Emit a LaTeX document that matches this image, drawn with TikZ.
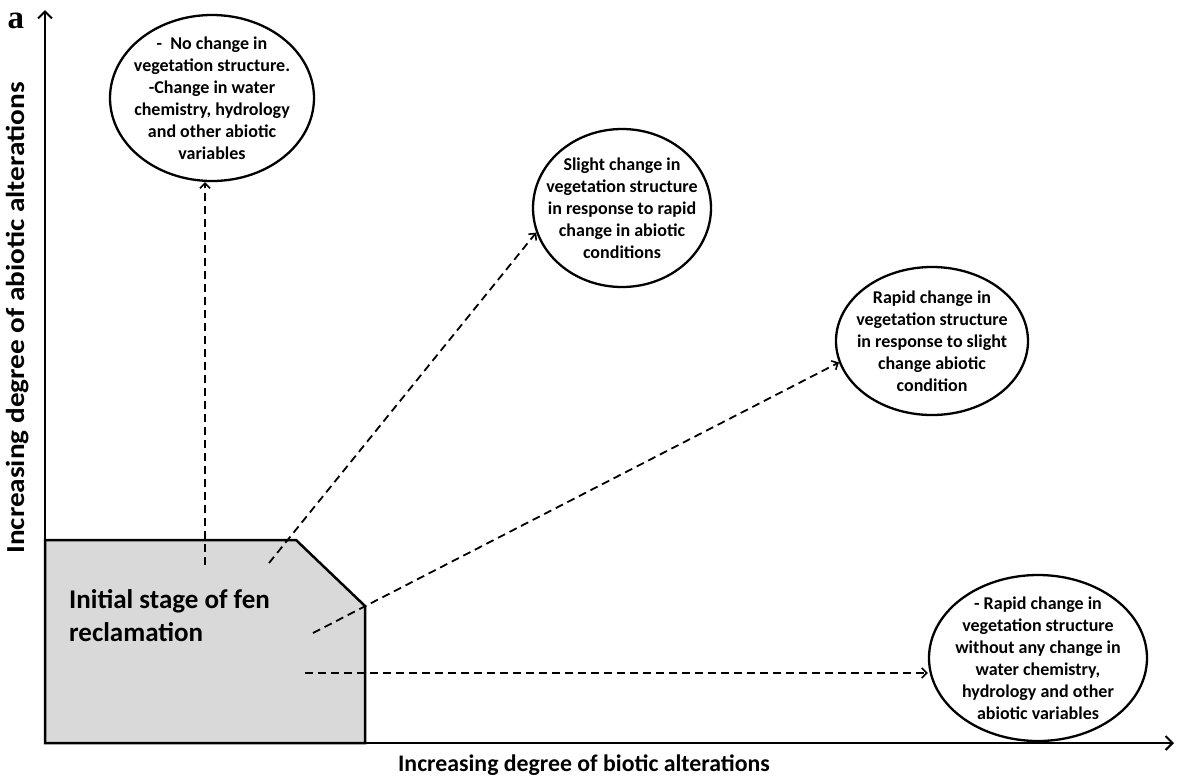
\documentclass[tikz,border=0pt]{standalone}
\usepackage{fontspec}
\usepackage{graphicx}
\setmainfont{Carlito}
\newfontfamily\panelfont{Liberation Serif}
\usetikzlibrary{arrows.meta,shapes.geometric}

\definecolor{stagegray}{HTML}{D9D9D9}

\begin{document}
\begin{tikzpicture}[x=1pt,y=-1pt,
  axis/.style={line width=2.3pt,-{Straight Barb[length=7pt,width=14pt,line width=2pt]}},
  trend/.style={line width=1.8pt,dash pattern=on 8pt off 5pt,
    -{Straight Barb[length=5pt,width=10pt,line width=1.6pt]}},
  outcome/.style={ellipse,draw,line width=2.3pt,fill=white,inner sep=-40pt,
    align=center,font=\bfseries\fontsize{18}{22}\selectfont},
  axislabel/.style={font=\bfseries\fontsize{23.8}{26}\selectfont},
]
\useasboundingbox (0,0) rectangle (1179,780);

% initial stage block
\draw[line width=2.5pt,fill=stagegray,line join=miter]
  (45,540) -- (296,540) -- (365,606) -- (365,743) -- (45,743) -- cycle;
\node[anchor=north west,inner sep=0pt,align=left,
      font=\bfseries\fontsize{27}{33}\selectfont] (stage) at (69,589)
  {Initial stage of fen\\reclamation};

% axes
\coordinate (O) at (45,743);
\coordinate (ytip) at (45,10);
\coordinate (xtip) at (1174,743);
\draw[axis] (O) -- (ytip);
\draw[axis] (O) -- (xtip);
\node[axislabel] (xlab) at (584,765) {Increasing degree of biotic alterations};
\node[font=\bfseries\fontsize{26}{28}\selectfont,rotate=90] (ylab) at (18,318)
  {\scalebox{1.125}[1]{Increasing degree of abiotic alterations}};

% panel letter
\node[font=\panelfont\bfseries\fontsize{33}{33}\selectfont,inner sep=0pt] (panel) at (16,21) {a};

% outcomes
\node[outcome,minimum width=204pt,minimum height=166pt] (e1) at (212,98)
  {-\ \ No change in\\vegetation structure.\\-Change in water\\chemistry, hydrology\\and other abiotic\\variables};
\node[outcome,minimum width=178pt,minimum height=158pt] (e2) at (622,208)
  {Slight change in\\vegetation structure\\in response to rapid\\change in abiotic\\conditions};
\node[outcome,minimum width=192pt,minimum height=148pt] (e3) at (932,341)
  {Rapid change in\\vegetation structure\\in response to slight\\change abiotic\\condition};
\node[outcome,minimum width=218pt,minimum height=166pt] (e4) at (1038,658)
  {- Rapid change in\\vegetation structure\\without any change in\\water chemistry,\\hydrology and other\\abiotic variables};

% trajectories from the initial stage
\coordinate (s1) at (205,565);
\coordinate (s2) at (269,563);
\coordinate (s3) at (313,633);
\coordinate (s4) at (305,673);
\draw[trend] (s1) -- (s1 |- e1.south);
\draw[trend] (s2) -- (e2.196);
\draw[trend] (s3) -- (e3.193);
\draw[trend] (s4) -- (s4 -| e4.west);
\end{tikzpicture}
\end{document}
